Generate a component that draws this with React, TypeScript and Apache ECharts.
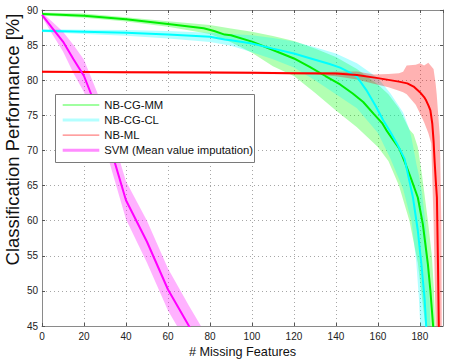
import React, { useEffect, useRef } from 'react';
import * as echarts from 'echarts';

// ---------- data ----------
const X_MIN = 0;
const X_MAX = 191;
const Y_MIN = 45;
const Y_MAX = 90;

const SERIES_NAMES = ['NB-CG-MM', 'NB-CG-CL', 'NB-ML', 'SVM (Mean value imputation)'];

// NB-CG-MM mean
const MM_X = [0, 20, 40, 60, 77, 82, 87, 90, 100, 110, 120, 127.5, 135, 142, 148, 153, 158, 162, 164, 167, 170.3, 173, 176, 179, 181.4, 183.8, 185, 186.3, 187];
const MM_Y = [89.43, 89.19, 88.67, 88.0, 87.4, 87.0, 86.5, 86.4, 85.5, 84.3, 83.1, 81.9, 80.6, 79.4, 78.1, 76.9, 75.2, 73.9, 72.9, 71.6, 70.2, 68.2, 65.8, 63.3, 59.5, 53.8, 50.0, 45.0, 42.0];
// NB-CG-MM band
const MM_BAND_X = [0, 20, 40, 60, 80, 90, 100, 110, 120, 130, 140, 150, 160, 165, 170, 175, 177, 179, 181, 183.8, 185.7, 186.7, 187.3, 188];
const MM_BAND_LO = [89.2, 88.9, 88.35, 87.6, 86.6, 85.4, 83.9, 82.0, 80.6, 78.2, 75.7, 73.3, 70.5, 68.5, 65.0, 60.0, 57.0, 54.0, 49.0, 42.0, 40, 40, 40, 40];
const MM_BAND_HI = [89.65, 89.5, 88.95, 88.4, 87.85, 87.35, 86.9, 86.3, 85.6, 84.5, 83.3, 81.6, 79.4, 78.0, 76.0, 73.0, 72.3, 70.5, 66.5, 60.0, 55.0, 50.0, 45.0, 40];

// NB-CG-CL mean
const CL_X = [0, 20, 40, 60, 80, 87, 90, 100, 110, 120, 128, 137, 142, 146, 150, 154.5, 159, 162.5, 166, 169, 172.7, 176.7, 179, 180.7, 182.2, 183, 184];
const CL_Y = [87.04, 86.92, 86.76, 86.5, 86.19, 85.81, 85.7, 85.24, 84.5, 83.8, 83.1, 82.3, 81.8, 81.2, 80.5, 78.6, 76.3, 74.3, 72.6, 71.0, 68.8, 63.3, 58.6, 53.8, 49.0, 45.0, 41.0];
// NB-CG-CL band
const CL_BAND_X = [0, 20, 40, 60, 80, 90, 100, 110, 120, 130, 140, 150, 160, 166, 172, 175, 176, 178.3, 179.5, 180.2, 181, 183, 184.6, 185.3];
const CL_BAND_LO = [86.85, 86.6, 86.35, 85.95, 85.45, 84.9, 84.0, 83.0, 81.8, 80.0, 78.0, 76.0, 72.5, 68.8, 64.5, 61.0, 60.0, 54.0, 49.0, 45.0, 40, 40, 40, 40];
const CL_BAND_HI = [87.25, 87.2, 87.15, 87.0, 86.75, 86.6, 86.4, 86.0, 85.5, 84.7, 83.8, 82.4, 80.3, 78.1, 75.4, 73.0, 71.8, 68.1, 66.5, 65.2, 64.0, 58.6, 49.0, 40];

// NB-ML mean
const ML_X = [0, 40, 80, 100, 120, 140, 150, 160, 165, 170, 174, 177, 180, 182, 183, 184.2, 185, 185.9, 186.5, 187, 187.6, 188.1, 188.6, 189, 189.3];
const ML_Y = [81.2, 81.15, 81.1, 81.05, 81.0, 80.95, 80.75, 80.3, 80.05, 79.8, 79.55, 79.1, 78.3, 77.6, 77.1, 76.3, 75.7, 73.8, 71.4, 68.5, 65.5, 63.3, 54.0, 45.0, 42.0];
// NB-ML band
const ML_BAND_X = [0, 100, 130, 140, 150, 158, 165, 170, 172, 173.7, 178, 180, 182, 184, 185.4, 186.5, 187.5, 188, 189.5, 190.2, 190.4, 190.6];
const ML_BAND_LO = [81.05, 80.9, 80.8, 80.55, 80.1, 79.5, 79.0, 78.5, 78.3, 78.0, 76.5, 75.3, 74.0, 72.5, 71.0, 60.0, 45.0, 40, 40, 40, 40, 40];
const ML_BAND_HI = [81.35, 81.2, 81.15, 81.2, 81.25, 80.8, 80.9, 81.0, 81.2, 82.1, 82.2, 82.4, 82.1, 82.5, 82.0, 81.6, 79.5, 78.0, 72.0, 60.0, 45.0, 40];

// SVM mean and band
const SVM_X = [0, 5, 10, 15, 20, 30, 40, 50, 60, 70, 80];
const SVM_Y = [89.3, 87.4, 85.5, 83.0, 80.6, 73.0, 62.9, 57.0, 50.2, 45.0, 40.0];
const SVM_BAND_LO = [89.0, 86.5, 84.1, 81.0, 78.3, 70.5, 60.2, 54.0, 47.2, 42.1, 37.2];
const SVM_BAND_HI = [89.6, 88.3, 86.9, 85.0, 82.9, 75.5, 65.6, 60.0, 53.2, 47.9, 42.8];

// ---------- styles ----------
const FONT = '"Liberation Sans", Arial, Helvetica, sans-serif';
const LINE_COLORS = ['#00ee00', '#00ffff', '#ff0000', '#ff00ff'];
const BAND_COLORS = ['rgba(0,255,0,0.3)', 'rgba(0,255,255,0.3)', 'rgba(255,0,0,0.3)', 'rgba(255,0,255,0.3)'];
const LEGEND_COLORS = ['#80ff80', '#b3ffff', '#ff8080', '#ff8cff'];
const LEGEND_WIDTHS = [1.3, 3, 1.3, 3];

function pairs(xs: number[], ys: number[]) {
  return xs.map((x, i) => [x, ys[i]]);
}

function bandSeries(name: string, xs: number[], lo: number[], hi: number[], color: string) {
  return {
    type: 'custom',
    name,
    silent: true,
    clip: true,
    coordinateSystem: 'cartesian2d',
    data: xs.map((x, i) => [x, lo[i], hi[i]]),
    encode: { x: 0, y: [1, 2] },
    renderItem: (params: any, api: any) => {
      if (params.dataIndex !== 0) return null;
      const upper = xs.map((x, i) => api.coord([x, hi[i]]));
      const lower = xs.map((x, i) => api.coord([x, lo[i]])).reverse();
      return {
        type: 'polygon',
        shape: { points: upper.concat(lower) },
        style: { fill: color, stroke: 'none' },
      };
    },
    z: 1,
  };
}

function lineSeries(name: string, xs: number[], ys: number[], color: string) {
  return {
    type: 'line',
    name,
    data: pairs(xs, ys),
    showSymbol: false,
    symbol: 'none',
    clip: true,
    lineStyle: { color, width: 2 },
    itemStyle: { color },
    z: 3,
  };
}

const AXIS_COLOR = '#8a8a8a';
const GRID_LINE = { show: true, lineStyle: { color: '#a6a6a6', type: [1, 3] as any, width: 1 } };

function buildOption() {
  const legendLeft = 55.5;
  const legendTop = 94.5;
  const rowY = [105, 120.1, 135.2, 150.3];
  const legendChildren: any[] = [
    {
      type: 'rect',
      z: 100,
      shape: { x: legendLeft, y: legendTop, width: 199, height: 68 },
      style: { fill: '#ffffff', stroke: '#7a7a7a', lineWidth: 1 },
    },
  ];
  SERIES_NAMES.forEach((n, i) => {
    legendChildren.push({
      type: 'line',
      z: 101,
      shape: { x1: 62.7, y1: rowY[i], x2: 99.3, y2: rowY[i] },
      style: { stroke: LEGEND_COLORS[i], lineWidth: LEGEND_WIDTHS[i] },
    });
    legendChildren.push({
      type: 'text',
      z: 101,
      x: 104.3,
      y: rowY[i],
      style: { text: n, font: `11.3px ${FONT}`, fill: '#111', align: 'left', verticalAlign: 'middle' },
    });
  });

  return {
    animation: false,
    backgroundColor: '#ffffff',
    grid: { left: 42, top: 10, right: 7, bottom: 37, containLabel: false, outerBoundsMode: 'none' },
    xAxis: [
      {
        type: 'value',
        min: X_MIN,
        max: X_MAX,
        interval: 20,
        position: 'bottom',
        name: '# Missing Features',
        nameLocation: 'middle',
        nameGap: 19.5,
        nameMoveOverlap: false,
        nameTextStyle: { fontFamily: FONT, fontSize: 12.7, color: '#111' },
        axisLine: { show: true, onZero: false, lineStyle: { color: AXIS_COLOR, width: 1 } },
        axisTick: { show: true, inside: true, length: 3, lineStyle: { color: '#555' } },
        axisLabel: { fontFamily: FONT, fontSize: 10, color: '#222', margin: 5, showMaxLabel: false },
        splitLine: GRID_LINE,
      },
      {
        type: 'value',
        min: X_MIN,
        max: X_MAX,
        interval: 20,
        position: 'top',
        axisLine: { show: true, onZero: false, lineStyle: { color: AXIS_COLOR, width: 1 } },
        axisTick: { show: true, inside: true, length: 3, lineStyle: { color: '#555' } },
        axisLabel: { show: false },
        splitLine: { show: false },
      },
    ],
    yAxis: [
      {
        type: 'value',
        min: Y_MIN,
        max: Y_MAX,
        interval: 5,
        position: 'left',
        name: 'Classification Performance [%]',
        nameLocation: 'middle',
        nameGap: 20,
        nameMoveOverlap: false,
        nameTextStyle: { fontFamily: FONT, fontSize: 18.5, color: '#111', padding: [0, 0, 0, 57] },
        axisLine: { show: true, onZero: false, lineStyle: { color: AXIS_COLOR, width: 1 } },
        axisTick: { show: true, inside: true, length: 3, lineStyle: { color: '#555' } },
        axisLabel: { fontFamily: FONT, fontSize: 10, color: '#222', margin: 4 },
        splitLine: GRID_LINE,
      },
      {
        type: 'value',
        min: Y_MIN,
        max: Y_MAX,
        interval: 5,
        position: 'right',
        axisLine: { show: true, onZero: false, lineStyle: { color: AXIS_COLOR, width: 1 } },
        axisTick: { show: true, inside: true, length: 3, lineStyle: { color: '#555' } },
        axisLabel: { show: false },
        splitLine: { show: false },
      },
    ],
    series: [
      bandSeries('NB-CG-MM band', MM_BAND_X, MM_BAND_LO, MM_BAND_HI, BAND_COLORS[0]),
      bandSeries('NB-CG-CL band', CL_BAND_X, CL_BAND_LO, CL_BAND_HI, BAND_COLORS[1]),
      bandSeries('NB-ML band', ML_BAND_X, ML_BAND_LO, ML_BAND_HI, BAND_COLORS[2]),
      bandSeries('SVM band', SVM_X, SVM_BAND_LO, SVM_BAND_HI, BAND_COLORS[3]),
      lineSeries(SERIES_NAMES[0], MM_X, MM_Y, LINE_COLORS[0]),
      lineSeries(SERIES_NAMES[1], CL_X, CL_Y, LINE_COLORS[1]),
      lineSeries(SERIES_NAMES[2], ML_X, ML_Y, LINE_COLORS[2]),
      lineSeries(SERIES_NAMES[3], SVM_X, SVM_Y, LINE_COLORS[3]),
    ],
    graphic: [{ type: 'group', z: 100, children: legendChildren }],
  };
}

export default function App() {
  const ref = useRef<HTMLDivElement>(null);
  useEffect(() => {
    if (!ref.current) return;
    const chart = echarts.init(ref.current, null, { renderer: 'svg' });
    chart.setOption(buildOption() as any);
    return () => chart.dispose();
  }, []);
  return (
    <div
      ref={ref}
      style={{ position: 'fixed', left: 0, top: 0, width: 450, height: 363, background: '#ffffff' }}
    />
  );
}
